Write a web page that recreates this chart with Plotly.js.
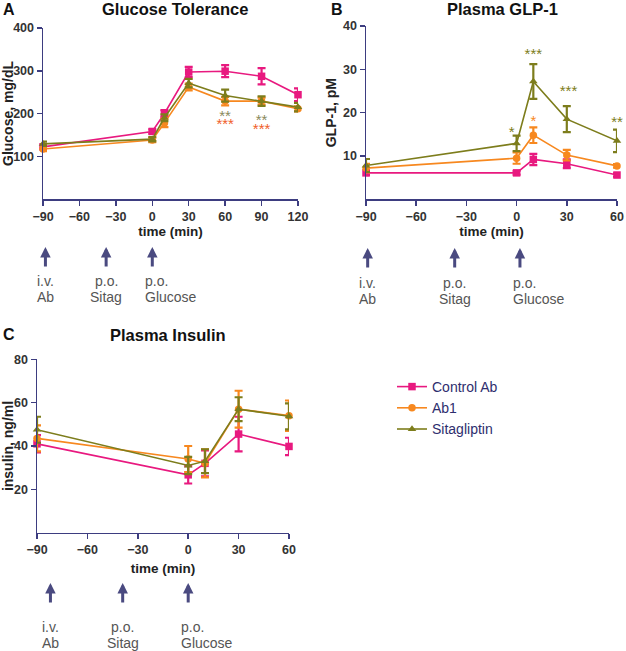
<!DOCTYPE html>
<html>
<head>
<meta charset="utf-8">
<script src="https://cdn.plot.ly/plotly-3.0.1.min.js"></script>
<style>
  html, body { margin: 0; padding: 0; background: #fff; }
  #chart { width: 626px; height: 651px; }
</style>
</head>
<body>
<div id="chart"></div>
<script>
// time points (min)
const timeGlucose = [-90, 0, 10, 30, 60, 90, 120]
const timeShort = [-90, 0, 10, 30, 60]

// A: glucose, mg/dL (mean, sem)
const gluControl = [122, 158, 200, 297, 299, 287, 244]
const gluControlErr = [6, 5, 8, 12, 14, 19, 15]
const gluAb1 = [117, 138, 178, 262, 229, 229, 211]
const gluAb1Err = [5, 5, 10, 8, 10, 8, 6]
const gluSita = [129, 140, 190, 271, 242, 229, 215]
const gluSitaErr = [5, 5, 8, 10, 14, 11, 10]

// B: GLP-1, pM
const glpControl = [6.1, 6.1, 9.2, 8.2, 5.6]
const glpControlErr = [0.5, 0.4, 1.3, 1.0, 0.4]
const glpAb1 = [7.2, 9.5, 14.8, 10.2, 7.7]
const glpAb1Err = [1.0, 1.3, 1.8, 1.2, 0.4]
const glpSita = [7.8, 12.9, 27.2, 18.5, 13.5]
const glpSitaErr = [1.5, 1.8, 4.0, 3.0, 2.6]

// C: insulin, ng/ml
const insControl = [41, 26.7, 32, 45.5, 39.8]
const insControlErr = [4, 4, 6, 8, 4]
const insAb1 = [43.5, 34, 32, 57, 54]
const insAb1Err = [6, 6, 6.5, 8.5, 7]
const insSita = [47.5, 31, 33, 57, 53.7]
const insSitaErr = [6, 4, 5.5, 5.5, 6]

// significance marks
const starsGluSitaX = [60, 90]
const starsGluSitaY = [191, 183]
const starsGluSitaText = ["**", "**"]
const starsGluAb1X = [60, 90]
const starsGluAb1Y = [173, 160]
const starsGluAb1Text = ["***", "***"]
const starsGlpSitaX = [-3, 10, 31, 60]
const starsGlpSitaY = [15.2, 33.2, 24.6, 17.6]
const starsGlpSitaText = ["*", "***", "***", "**"]
const starsGlpAb1X = [10]
const starsGlpAb1Y = [17.8]
const starsGlpAb1Text = ["*"]

const xTicks = [-90, -60, -30, 0, 30, 60, 90, 120]

// dosing arrows (min)
const doseTimesA = [-88, -38, 0]
const doseTimesB = [-89, -37, 2]
const doseTimesC = [-82, -39, 0]
const doseRoute = ["i.v.", "p.o.", "p.o."]
const doseAgent = ["Ab", "Sitag", "Glucose"]

const groups = ["Control Ab", "Ab1", "Sitagliptin"]
const colors = ["#e8197f", "#f7881f", "#7d7d1c"]
const symbols = ["square", "circle", "triangle-up"]

const W = 626, H = 651
const px = (x) => x / W
const py = (y) => (H - y) / H
const navy = "#3d3d80"
const font = "Liberation Sans, Arial, sans-serif"

const traces = []

function addSeries(ax, t, ys, errs, idx, legend) {
  traces.push({
    x: t, y: ys,
    xaxis: "x" + ax, yaxis: "y" + ax,
    type: "scatter", mode: "lines+markers",
    name: groups[idx], legendgroup: groups[idx], showlegend: legend,
    line: { color: colors[idx], width: 1.6 },
    marker: { color: colors[idx], symbol: symbols[idx], size: 7.5 },
    error_y: { type: "data", array: errs, visible: true, color: colors[idx], thickness: 2.2, width: 4 },
    cliponaxis: false,
  })
}

addSeries("", timeGlucose, gluControl, gluControlErr, 0, true)
addSeries("", timeGlucose, gluAb1, gluAb1Err, 1, true)
addSeries("", timeGlucose, gluSita, gluSitaErr, 2, true)
addSeries("2", timeShort, glpControl, glpControlErr, 0, false)
addSeries("2", timeShort, glpAb1, glpAb1Err, 1, false)
addSeries("2", timeShort, glpSita, glpSitaErr, 2, false)
addSeries("3", timeShort, insControl, insControlErr, 0, false)
addSeries("3", timeShort, insAb1, insAb1Err, 1, false)
addSeries("3", timeShort, insSita, insSitaErr, 2, false)

function addStars(ax, xs, ys, txt, color) {
  traces.push({
    x: xs, y: ys, text: txt,
    xaxis: "x" + ax, yaxis: "y" + ax,
    type: "scatter", mode: "text", showlegend: false, hoverinfo: "skip",
    textfont: { family: font, size: 15, color: color },
    cliponaxis: false,
  })
}
addStars("", starsGluSitaX, starsGluSitaY, starsGluSitaText, "#8a8a5c")
addStars("", starsGluAb1X, starsGluAb1Y, starsGluAb1Text, "#f0602a")
addStars("2", starsGlpSitaX, starsGlpSitaY, starsGlpSitaText, "#7d7d1c")
addStars("2", starsGlpAb1X, starsGlpAb1Y, starsGlpAb1Text, "#f7881f")

function xAxis(x0, x1, range, anchor, standoff) {
  return {
    domain: [px(x0), px(x1)], range: range, anchor: anchor,
    tickvals: xTicks.filter(v => v >= range[0] && v <= range[1]),
    showline: true, linecolor: navy, linewidth: 1.5,
    ticks: "outside", ticklen: 5, tickcolor: navy, tickwidth: 1.5,
    showgrid: false, zeroline: false,
    tickfont: { family: font, size: 12.5, color: "#333", weight: "bold" },
    title: { text: "time (min)", font: { family: font, size: 13.5, color: "#222", weight: "bold" }, standoff: standoff },
  }
}
function yAxis(y0, y1, range, ticks, title, anchor) {
  return {
    domain: [py(y0), py(y1)], range: range, anchor: anchor,
    tickvals: ticks,
    showline: true, linecolor: navy, linewidth: 1.5,
    ticks: "outside", ticklen: 5, tickcolor: navy, tickwidth: 1.5,
    showgrid: false, zeroline: false,
    tickfont: { family: font, size: 12.5, color: "#333", weight: "bold" },
    title: { text: title, font: { family: font, size: 14, color: "#222", weight: "bold" }, standoff: 3 },
  }
}

const annotations = []
function label(x, y, text, size, anchor) {
  annotations.push({
    xref: "paper", yref: "paper", x: px(x), y: py(y),
    text: text, showarrow: false, xanchor: anchor || "center", yanchor: "middle",
    font: { family: font, size: size, color: "#111", weight: "bold" },
  })
}
label(1, 9, "A", 16, "left")
label(175, 9, "Glucose Tolerance", 16.5)
label(329, 9, "B", 16, "left")
label(502, 9, "Plasma GLP-1", 16.5)
label(1, 335, "C", 16, "left")
label(168, 335, "Plasma Insulin", 16.5)

function doses(xref, times, yHead, yText) {
  times.forEach((t, i) => {
    annotations.push({
      xref: xref, yref: "paper", x: t, y: py(yHead),
      ax: 0, ay: 21, text: "", showarrow: true,
      arrowhead: 2, arrowsize: 0.7, arrowwidth: 3, arrowcolor: "#4a4a80",
    })
    const isGlucose = i === 2
    const lines = [doseRoute[i], doseAgent[i]]
    lines.forEach((txt, k) => {
      annotations.push({
        xref: xref, yref: "paper", x: t, y: py(yText + k * 16),
        xshift: isGlucose ? -9 : 0,
        text: txt, showarrow: false,
        xanchor: isGlucose ? "left" : "center", yanchor: "middle",
        font: { family: font, size: 14, color: "#555" },
      })
    })
  })
}
doses("x", doseTimesA, 247, 281)
doses("x2", doseTimesB, 248, 283)
doses("x3", doseTimesC, 583, 627)

const layout = {
  width: W, height: H,
  margin: { l: 0, r: 0, t: 0, b: 0 },
  paper_bgcolor: "#fff", plot_bgcolor: "#fff",
  font: { family: font },
  showlegend: true,
  legend: {
    x: px(392), y: py(371), xanchor: "left", yanchor: "top",
    font: { family: font, size: 14, color: "#2e2e6e" },
    bgcolor: "rgba(0,0,0,0)", tracegroupgap: 0,
  },
  xaxis: xAxis(43, 298, [-90, 120], "y", 4),
  yaxis: yAxis(199, 28, [0, 400], [100, 200, 300, 400], "Glucose, mg/dL", "x"),
  xaxis2: xAxis(366, 617, [-90, 60], "y2", 2),
  yaxis2: yAxis(199.3, 26, [0, 40], [10, 20, 30, 40], "GLP-1, pM", "x2"),
  xaxis3: xAxis(37, 289, [-90, 60], "y3", 7),
  yaxis3: yAxis(532.7, 359.3, [0, 80], [20, 40, 60, 80], "insulin, ng/ml", "x3"),
  annotations: annotations,
}

Plotly.newPlot("chart", traces, layout, { displayModeBar: false, staticPlot: true })
</script>
</body>
</html>
